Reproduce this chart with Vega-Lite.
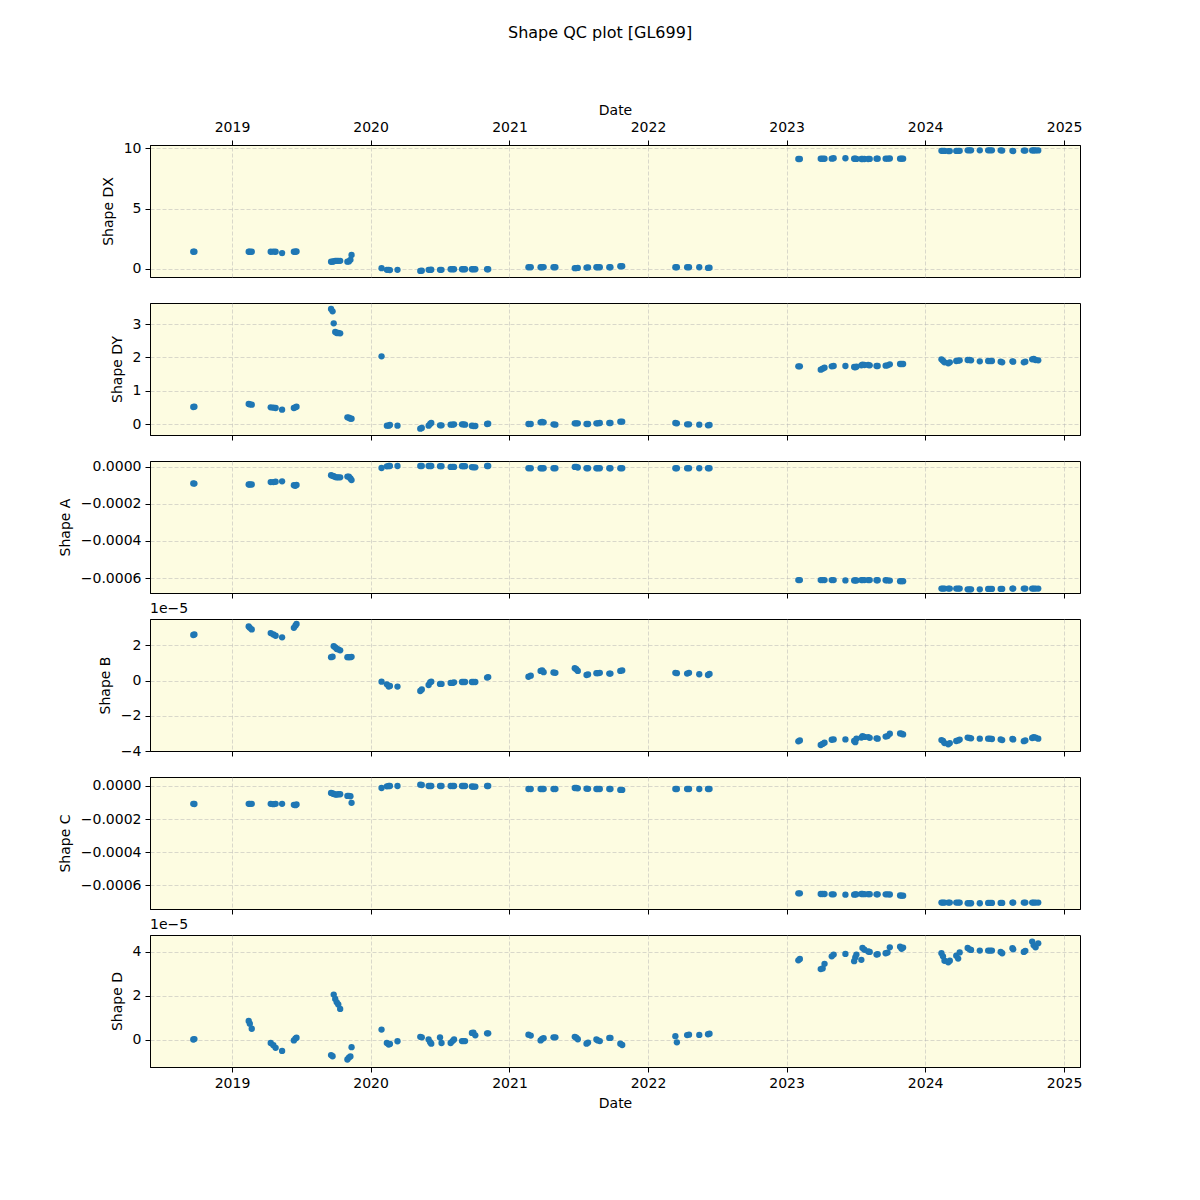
{
 "$schema": "https://vega.github.io/schema/vega-lite/v6.json",
 "background": "white",
 "padding": {"left": 57, "top": 24, "right": 5, "bottom": 5},
 "title": {"text": "Shape QC plot [GL699]", "fontSize": 16, "font": "DejaVu Sans", "fontWeight": "normal", "color": "#000", "anchor": "middle", "offset": 62, "dx": 30},
 "data": {"values": [
  {"t":"2018-09-21","dx":1.42,"dy":0.51,"a":-0.89e-4,"b":2.59e-5,"c":-1.08e-4,"d":0.02e-5},
  {"t":"2018-09-24","dx":1.43,"dy":0.52,"a":-0.90e-4,"b":2.62e-5,"c":-1.09e-4,"d":0.04e-5},
  {"t":"2019-02-14","dx":1.42,"dy":0.60,"a":-0.95e-4,"b":3.08e-5,"c":-1.08e-4,"d":0.86e-5},
  {"t":"2019-02-17","dx":1.42,"dy":0.59,"a":-0.95e-4,"b":3.00e-5,"c":-1.08e-4,"d":0.74e-5},
  {"t":"2019-02-22","dx":1.42,"dy":0.58,"a":-0.95e-4,"b":2.91e-5,"c":-1.08e-4,"d":0.51e-5},
  {"t":"2019-04-13","dx":1.42,"dy":0.50,"a":-0.82e-4,"b":2.70e-5,"c":-1.08e-4,"d":-0.14e-5},
  {"t":"2019-04-20","dx":1.43,"dy":0.49,"a":-0.82e-4,"b":2.62e-5,"c":-1.10e-4,"d":-0.24e-5},
  {"t":"2019-04-26","dx":1.42,"dy":0.48,"a":-0.80e-4,"b":2.55e-5,"c":-1.08e-4,"d":-0.36e-5},
  {"t":"2019-05-13","dx":1.31,"dy":0.43,"a":-0.78e-4,"b":2.46e-5,"c":-1.08e-4,"d":-0.50e-5},
  {"t":"2019-06-13","dx":1.42,"dy":0.48,"a":-0.99e-4,"b":3.00e-5,"c":-1.14e-4,"d":-0.02e-5},
  {"t":"2019-06-17","dx":1.42,"dy":0.50,"a":-1.02e-4,"b":3.12e-5,"c":-1.16e-4,"d":0.06e-5},
  {"t":"2019-06-20","dx":1.44,"dy":0.52,"a":-0.97e-4,"b":3.22e-5,"c":-1.12e-4,"d":0.10e-5},
  {"t":"2019-09-19","dx":0.59,"dy":3.45,"a":-0.45e-4,"b":1.33e-5,"c":-0.42e-4,"d":-0.69e-5},
  {"t":"2019-09-23","dx":0.60,"dy":3.38,"a":-0.48e-4,"b":1.36e-5,"c":-0.45e-4,"d":-0.74e-5},
  {"t":"2019-09-26","dx":0.63,"dy":3.02,"a":-0.50e-4,"b":1.95e-5,"c":-0.48e-4,"d":2.06e-5},
  {"t":"2019-09-30","dx":0.66,"dy":2.76,"a":-0.55e-4,"b":1.89e-5,"c":-0.52e-4,"d":1.86e-5},
  {"t":"2019-10-04","dx":0.67,"dy":2.73,"a":-0.56e-4,"b":1.80e-5,"c":-0.52e-4,"d":1.71e-5},
  {"t":"2019-10-08","dx":0.67,"dy":2.73,"a":-0.56e-4,"b":1.77e-5,"c":-0.50e-4,"d":1.61e-5},
  {"t":"2019-10-13","dx":0.67,"dy":2.72,"a":-0.56e-4,"b":1.72e-5,"c":-0.50e-4,"d":1.41e-5},
  {"t":"2019-11-01","dx":0.60,"dy":0.20,"a":-0.52e-4,"b":1.33e-5,"c":-0.60e-4,"d":-0.89e-5},
  {"t":"2019-11-05","dx":0.62,"dy":0.19,"a":-0.52e-4,"b":1.33e-5,"c":-0.60e-4,"d":-0.80e-5},
  {"t":"2019-11-09","dx":0.75,"dy":0.16,"a":-0.62e-4,"b":1.33e-5,"c":-0.62e-4,"d":-0.75e-5},
  {"t":"2019-11-12","dx":1.15,"dy":0.16,"a":-0.71e-4,"b":1.35e-5,"c":-1.02e-4,"d":-0.33e-5},
  {"t":"2020-01-30","dx":0.06,"dy":2.03,"a":-0.06e-4,"b":-0.06e-5,"c":-0.12e-4,"d":0.47e-5},
  {"t":"2020-02-13","dx":-0.08,"dy":-0.05,"a":0.03e-4,"b":-0.21e-5,"c":-0.02e-4,"d":-0.14e-5},
  {"t":"2020-02-18","dx":-0.08,"dy":-0.05,"a":0.05e-4,"b":-0.34e-5,"c":0.0,"d":-0.21e-5},
  {"t":"2020-02-21","dx":-0.10,"dy":-0.03,"a":0.05e-4,"b":-0.30e-5,"c":0.0,"d":-0.18e-5},
  {"t":"2020-03-12","dx":-0.08,"dy":-0.05,"a":0.05e-4,"b":-0.34e-5,"c":0.0,"d":-0.06e-5},
  {"t":"2020-05-11","dx":-0.17,"dy":-0.14,"a":0.05e-4,"b":-0.59e-5,"c":0.08e-4,"d":0.14e-5},
  {"t":"2020-05-15","dx":-0.15,"dy":-0.12,"a":0.05e-4,"b":-0.50e-5,"c":0.06e-4,"d":0.12e-5},
  {"t":"2020-06-02","dx":-0.08,"dy":-0.05,"a":0.05e-4,"b":-0.25e-5,"c":0.0,"d":0.02e-5},
  {"t":"2020-06-06","dx":-0.08,"dy":0.00,"a":0.05e-4,"b":-0.10e-5,"c":0.0,"d":-0.10e-5},
  {"t":"2020-06-09","dx":-0.07,"dy":0.03,"a":0.05e-4,"b":-0.06e-5,"c":0.0,"d":-0.17e-5},
  {"t":"2020-07-02","dx":-0.08,"dy":-0.04,"a":0.04e-4,"b":-0.19e-5,"c":0.0,"d":0.11e-5},
  {"t":"2020-07-06","dx":-0.08,"dy":-0.04,"a":0.04e-4,"b":-0.19e-5,"c":0.0,"d":-0.14e-5},
  {"t":"2020-07-30","dx":-0.03,"dy":-0.02,"a":0.0,"b":-0.13e-5,"c":0.0,"d":-0.14e-5},
  {"t":"2020-08-04","dx":-0.03,"dy":-0.02,"a":0.0,"b":-0.13e-5,"c":0.0,"d":-0.05e-5},
  {"t":"2020-08-08","dx":-0.03,"dy":-0.01,"a":0.0,"b":-0.10e-5,"c":0.0,"d":0.02e-5},
  {"t":"2020-08-29","dx":-0.03,"dy":-0.01,"a":0.04e-4,"b":-0.08e-5,"c":0.0,"d":-0.05e-5},
  {"t":"2020-09-02","dx":-0.03,"dy":-0.01,"a":0.04e-4,"b":-0.08e-5,"c":0.0,"d":-0.05e-5},
  {"t":"2020-09-06","dx":-0.03,"dy":-0.02,"a":0.04e-4,"b":-0.08e-5,"c":0.0,"d":-0.05e-5},
  {"t":"2020-09-24","dx":-0.03,"dy":-0.05,"a":-0.01e-4,"b":-0.08e-5,"c":-0.03e-4,"d":0.32e-5},
  {"t":"2020-09-28","dx":-0.03,"dy":-0.06,"a":-0.02e-4,"b":-0.08e-5,"c":-0.04e-4,"d":0.33e-5},
  {"t":"2020-10-03","dx":-0.03,"dy":-0.06,"a":-0.02e-4,"b":-0.08e-5,"c":-0.04e-4,"d":0.21e-5},
  {"t":"2020-11-03","dx":-0.03,"dy":0.00,"a":0.05e-4,"b":0.17e-5,"c":0.0,"d":0.30e-5},
  {"t":"2020-11-06","dx":-0.03,"dy":0.01,"a":0.05e-4,"b":0.20e-5,"c":0.0,"d":0.30e-5},
  {"t":"2021-02-20","dx":0.14,"dy":0.00,"a":-0.07e-4,"b":0.22e-5,"c":-0.18e-4,"d":0.24e-5},
  {"t":"2021-02-26","dx":0.14,"dy":0.00,"a":-0.07e-4,"b":0.28e-5,"c":-0.18e-4,"d":0.20e-5},
  {"t":"2021-03-24","dx":0.14,"dy":0.05,"a":-0.07e-4,"b":0.55e-5,"c":-0.18e-4,"d":-0.02e-5},
  {"t":"2021-03-28","dx":0.14,"dy":0.06,"a":-0.07e-4,"b":0.58e-5,"c":-0.18e-4,"d":0.05e-5},
  {"t":"2021-04-01","dx":0.15,"dy":0.05,"a":-0.07e-4,"b":0.48e-5,"c":-0.18e-4,"d":0.08e-5},
  {"t":"2021-04-27","dx":0.14,"dy":-0.01,"a":-0.07e-4,"b":0.46e-5,"c":-0.18e-4,"d":0.12e-5},
  {"t":"2021-05-02","dx":0.14,"dy":-0.02,"a":-0.07e-4,"b":0.44e-5,"c":-0.18e-4,"d":0.12e-5},
  {"t":"2021-06-22","dx":0.06,"dy":0.02,"a":0.0,"b":0.70e-5,"c":-0.12e-4,"d":0.14e-5},
  {"t":"2021-06-26","dx":0.07,"dy":0.02,"a":0.0,"b":0.65e-5,"c":-0.12e-4,"d":0.10e-5},
  {"t":"2021-06-30","dx":0.08,"dy":0.02,"a":-0.03e-4,"b":0.55e-5,"c":-0.14e-4,"d":0.03e-5},
  {"t":"2021-07-23","dx":0.11,"dy":0.00,"a":-0.07e-4,"b":0.32e-5,"c":-0.16e-4,"d":-0.17e-5},
  {"t":"2021-07-27","dx":0.12,"dy":0.00,"a":-0.07e-4,"b":0.35e-5,"c":-0.17e-4,"d":-0.12e-5},
  {"t":"2021-08-18","dx":0.14,"dy":0.02,"a":-0.07e-4,"b":0.42e-5,"c":-0.18e-4,"d":0.02e-5},
  {"t":"2021-08-22","dx":0.14,"dy":0.02,"a":-0.07e-4,"b":0.42e-5,"c":-0.18e-4,"d":-0.02e-5},
  {"t":"2021-08-27","dx":0.14,"dy":0.03,"a":-0.07e-4,"b":0.44e-5,"c":-0.18e-4,"d":-0.05e-5},
  {"t":"2021-09-21","dx":0.14,"dy":0.03,"a":-0.07e-4,"b":0.40e-5,"c":-0.18e-4,"d":0.09e-5},
  {"t":"2021-09-24","dx":0.14,"dy":0.03,"a":-0.07e-4,"b":0.40e-5,"c":-0.18e-4,"d":0.09e-5},
  {"t":"2021-10-20","dx":0.22,"dy":0.07,"a":-0.07e-4,"b":0.55e-5,"c":-0.24e-4,"d":-0.17e-5},
  {"t":"2021-10-25","dx":0.22,"dy":0.07,"a":-0.07e-4,"b":0.58e-5,"c":-0.24e-4,"d":-0.23e-5},
  {"t":"2022-03-14","dx":0.14,"dy":0.03,"a":-0.07e-4,"b":0.44e-5,"c":-0.18e-4,"d":0.17e-5},
  {"t":"2022-03-18","dx":0.14,"dy":0.02,"a":-0.07e-4,"b":0.42e-5,"c":-0.18e-4,"d":-0.11e-5},
  {"t":"2022-04-14","dx":0.14,"dy":-0.01,"a":-0.07e-4,"b":0.40e-5,"c":-0.18e-4,"d":0.22e-5},
  {"t":"2022-04-19","dx":0.14,"dy":-0.01,"a":-0.07e-4,"b":0.44e-5,"c":-0.18e-4,"d":0.24e-5},
  {"t":"2022-05-16","dx":0.14,"dy":-0.02,"a":-0.07e-4,"b":0.36e-5,"c":-0.18e-4,"d":0.23e-5},
  {"t":"2022-06-08","dx":0.08,"dy":-0.04,"a":-0.07e-4,"b":0.32e-5,"c":-0.18e-4,"d":0.26e-5},
  {"t":"2022-06-12","dx":0.10,"dy":-0.03,"a":-0.07e-4,"b":0.38e-5,"c":-0.18e-4,"d":0.28e-5},
  {"t":"2023-02-01","dx":9.10,"dy":1.73,"a":-6.11e-4,"b":-3.45e-5,"c":-6.50e-4,"d":3.62e-5},
  {"t":"2023-02-05","dx":9.10,"dy":1.73,"a":-6.11e-4,"b":-3.40e-5,"c":-6.50e-4,"d":3.68e-5},
  {"t":"2023-04-01","dx":9.12,"dy":1.63,"a":-6.11e-4,"b":-3.66e-5,"c":-6.54e-4,"d":3.22e-5},
  {"t":"2023-04-06","dx":9.12,"dy":1.66,"a":-6.11e-4,"b":-3.60e-5,"c":-6.54e-4,"d":3.25e-5},
  {"t":"2023-04-11","dx":9.12,"dy":1.69,"a":-6.11e-4,"b":-3.53e-5,"c":-6.54e-4,"d":3.46e-5},
  {"t":"2023-04-30","dx":9.13,"dy":1.73,"a":-6.11e-4,"b":-3.36e-5,"c":-6.56e-4,"d":3.80e-5},
  {"t":"2023-05-05","dx":9.16,"dy":1.74,"a":-6.11e-4,"b":-3.34e-5,"c":-6.56e-4,"d":3.88e-5},
  {"t":"2023-06-05","dx":9.16,"dy":1.74,"a":-6.13e-4,"b":-3.34e-5,"c":-6.58e-4,"d":3.91e-5},
  {"t":"2023-06-28","dx":9.12,"dy":1.71,"a":-6.13e-4,"b":-3.43e-5,"c":-6.58e-4,"d":3.58e-5},
  {"t":"2023-07-01","dx":9.13,"dy":1.70,"a":-6.13e-4,"b":-3.50e-5,"c":-6.56e-4,"d":3.75e-5},
  {"t":"2023-07-04","dx":9.11,"dy":1.72,"a":-6.13e-4,"b":-3.30e-5,"c":-6.56e-4,"d":3.88e-5},
  {"t":"2023-07-17","dx":9.10,"dy":1.76,"a":-6.11e-4,"b":-3.24e-5,"c":-6.54e-4,"d":3.64e-5},
  {"t":"2023-07-20","dx":9.10,"dy":1.78,"a":-6.11e-4,"b":-3.15e-5,"c":-6.54e-4,"d":4.18e-5},
  {"t":"2023-07-25","dx":9.10,"dy":1.77,"a":-6.11e-4,"b":-3.20e-5,"c":-6.55e-4,"d":4.10e-5},
  {"t":"2023-08-04","dx":9.10,"dy":1.77,"a":-6.11e-4,"b":-3.21e-5,"c":-6.55e-4,"d":4.02e-5},
  {"t":"2023-08-08","dx":9.11,"dy":1.76,"a":-6.11e-4,"b":-3.25e-5,"c":-6.55e-4,"d":4.00e-5},
  {"t":"2023-08-26","dx":9.13,"dy":1.74,"a":-6.12e-4,"b":-3.28e-5,"c":-6.56e-4,"d":3.88e-5},
  {"t":"2023-08-29","dx":9.13,"dy":1.74,"a":-6.12e-4,"b":-3.30e-5,"c":-6.56e-4,"d":3.90e-5},
  {"t":"2023-09-19","dx":9.13,"dy":1.75,"a":-6.12e-4,"b":-3.18e-5,"c":-6.56e-4,"d":3.94e-5},
  {"t":"2023-09-24","dx":9.13,"dy":1.76,"a":-6.13e-4,"b":-3.15e-5,"c":-6.56e-4,"d":3.97e-5},
  {"t":"2023-09-30","dx":9.14,"dy":1.79,"a":-6.14e-4,"b":-3.02e-5,"c":-6.57e-4,"d":4.21e-5},
  {"t":"2023-10-27","dx":9.13,"dy":1.80,"a":-6.17e-4,"b":-3.00e-5,"c":-6.63e-4,"d":4.24e-5},
  {"t":"2023-10-31","dx":9.13,"dy":1.80,"a":-6.17e-4,"b":-3.02e-5,"c":-6.64e-4,"d":4.14e-5},
  {"t":"2023-11-04","dx":9.13,"dy":1.80,"a":-6.17e-4,"b":-3.06e-5,"c":-6.64e-4,"d":4.20e-5},
  {"t":"2024-02-13","dx":9.78,"dy":1.94,"a":-6.57e-4,"b":-3.38e-5,"c":-7.06e-4,"d":3.94e-5},
  {"t":"2024-02-17","dx":9.77,"dy":1.90,"a":-6.57e-4,"b":-3.42e-5,"c":-7.06e-4,"d":3.80e-5},
  {"t":"2024-02-21","dx":9.77,"dy":1.85,"a":-6.57e-4,"b":-3.55e-5,"c":-7.06e-4,"d":3.60e-5},
  {"t":"2024-03-02","dx":9.76,"dy":1.82,"a":-6.57e-4,"b":-3.62e-5,"c":-7.06e-4,"d":3.53e-5},
  {"t":"2024-03-06","dx":9.76,"dy":1.85,"a":-6.57e-4,"b":-3.55e-5,"c":-7.06e-4,"d":3.60e-5},
  {"t":"2024-03-23","dx":9.77,"dy":1.89,"a":-6.57e-4,"b":-3.43e-5,"c":-7.06e-4,"d":3.83e-5},
  {"t":"2024-03-28","dx":9.77,"dy":1.90,"a":-6.57e-4,"b":-3.40e-5,"c":-7.06e-4,"d":3.70e-5},
  {"t":"2024-04-01","dx":9.78,"dy":1.91,"a":-6.57e-4,"b":-3.35e-5,"c":-7.06e-4,"d":3.98e-5},
  {"t":"2024-04-22","dx":9.82,"dy":1.92,"a":-6.61e-4,"b":-3.24e-5,"c":-7.10e-4,"d":4.18e-5},
  {"t":"2024-04-27","dx":9.82,"dy":1.92,"a":-6.61e-4,"b":-3.26e-5,"c":-7.10e-4,"d":4.12e-5},
  {"t":"2024-05-01","dx":9.82,"dy":1.91,"a":-6.61e-4,"b":-3.28e-5,"c":-7.10e-4,"d":4.09e-5},
  {"t":"2024-05-24","dx":9.82,"dy":1.88,"a":-6.61e-4,"b":-3.30e-5,"c":-7.10e-4,"d":4.06e-5},
  {"t":"2024-06-15","dx":9.82,"dy":1.89,"a":-6.59e-4,"b":-3.30e-5,"c":-7.08e-4,"d":4.06e-5},
  {"t":"2024-06-20","dx":9.82,"dy":1.89,"a":-6.59e-4,"b":-3.30e-5,"c":-7.08e-4,"d":4.06e-5},
  {"t":"2024-06-25","dx":9.82,"dy":1.89,"a":-6.59e-4,"b":-3.32e-5,"c":-7.08e-4,"d":4.06e-5},
  {"t":"2024-07-18","dx":9.82,"dy":1.87,"a":-6.59e-4,"b":-3.34e-5,"c":-7.08e-4,"d":4.00e-5},
  {"t":"2024-07-22","dx":9.80,"dy":1.85,"a":-6.59e-4,"b":-3.38e-5,"c":-7.08e-4,"d":3.94e-5},
  {"t":"2024-08-18","dx":9.78,"dy":1.88,"a":-6.57e-4,"b":-3.32e-5,"c":-7.06e-4,"d":4.17e-5},
  {"t":"2024-08-20","dx":9.76,"dy":1.87,"a":-6.57e-4,"b":-3.34e-5,"c":-7.06e-4,"d":4.12e-5},
  {"t":"2024-09-17","dx":9.80,"dy":1.85,"a":-6.57e-4,"b":-3.44e-5,"c":-7.06e-4,"d":4.00e-5},
  {"t":"2024-09-21","dx":9.80,"dy":1.87,"a":-6.57e-4,"b":-3.40e-5,"c":-7.06e-4,"d":4.05e-5},
  {"t":"2024-10-09","dx":9.81,"dy":1.94,"a":-6.57e-4,"b":-3.26e-5,"c":-7.06e-4,"d":4.47e-5},
  {"t":"2024-10-13","dx":9.81,"dy":1.95,"a":-6.57e-4,"b":-3.22e-5,"c":-7.06e-4,"d":4.30e-5},
  {"t":"2024-10-18","dx":9.81,"dy":1.92,"a":-6.57e-4,"b":-3.24e-5,"c":-7.06e-4,"d":4.21e-5},
  {"t":"2024-10-25","dx":9.81,"dy":1.91,"a":-6.57e-4,"b":-3.30e-5,"c":-7.06e-4,"d":4.39e-5}
 ]},
 "spacing": 26,
 "bounds": "flush",
 "vconcat": [
  {"width": 930, "height": 132,
   "mark": {"type": "circle", "size": 40, "color": "#1f77b4", "opacity": 1},
   "encoding": {
    "x": {"field": "t", "type": "temporal",
      "scale": {"type": "utc", "domain": [{"year": 2018, "month": 5, "date": 30, "utc": true}, {"year": 2025, "month": 2, "date": 12, "utc": true}]},
      "axis": {"orient": "top", "title": "Date", "format": "%Y", "labelPadding": 6, "titlePadding": 3, "values": [{"year": 2019, "utc": true}, {"year": 2020, "utc": true}, {"year": 2021, "utc": true}, {"year": 2022, "utc": true}, {"year": 2023, "utc": true}, {"year": 2024, "utc": true}, {"year": 2025, "utc": true}]}},
    "y": {"field": "dx", "type": "quantitative", "scale": {"domain": [-0.67, 10.26], "nice": false, "zero": false}, "axis": {"title": "Shape DX", "values": [0, 5, 10]}}
   }},
  {"width": 930, "height": 132,
   "mark": {"type": "circle", "size": 40, "color": "#1f77b4", "opacity": 1},
   "encoding": {
    "x": {"field": "t", "type": "temporal",
      "scale": {"type": "utc", "domain": [{"year": 2018, "month": 5, "date": 30, "utc": true}, {"year": 2025, "month": 2, "date": 12, "utc": true}]},
      "axis": {"orient": "bottom", "title": null, "labels": false, "values": [{"year": 2019, "utc": true}, {"year": 2020, "utc": true}, {"year": 2021, "utc": true}, {"year": 2022, "utc": true}, {"year": 2023, "utc": true}, {"year": 2024, "utc": true}, {"year": 2025, "utc": true}]}},
    "y": {"field": "dy", "type": "quantitative", "scale": {"domain": [-0.33, 3.63], "nice": false, "zero": false}, "axis": {"title": "Shape DY", "values": [0, 1, 2, 3]}}
   }},
  {"width": 930, "height": 132,
   "mark": {"type": "circle", "size": 40, "color": "#1f77b4", "opacity": 1},
   "encoding": {
    "x": {"field": "t", "type": "temporal",
      "scale": {"type": "utc", "domain": [{"year": 2018, "month": 5, "date": 30, "utc": true}, {"year": 2025, "month": 2, "date": 12, "utc": true}]},
      "axis": {"orient": "bottom", "title": null, "labels": false, "values": [{"year": 2019, "utc": true}, {"year": 2020, "utc": true}, {"year": 2021, "utc": true}, {"year": 2022, "utc": true}, {"year": 2023, "utc": true}, {"year": 2024, "utc": true}, {"year": 2025, "utc": true}]}},
    "y": {"field": "a", "type": "quantitative", "scale": {"domain": [-6.81e-4, 0.32e-4], "nice": false, "zero": false}, "axis": {"title": "Shape A", "values": [0, -0.0002, -0.0004, -0.0006], "format": ".4f"}}
   }},
  {"width": 930, "height": 132,
   "title": {"text": "1e−5", "anchor": "start", "frame": "group", "fontSize": 14, "fontWeight": "normal", "font": "DejaVu Sans", "color": "#000", "offset": 3},
   "mark": {"type": "circle", "size": 40, "color": "#1f77b4", "opacity": 1},
   "encoding": {
    "x": {"field": "t", "type": "temporal",
      "scale": {"type": "utc", "domain": [{"year": 2018, "month": 5, "date": 30, "utc": true}, {"year": 2025, "month": 2, "date": 12, "utc": true}]},
      "axis": {"orient": "bottom", "title": null, "labels": false, "values": [{"year": 2019, "utc": true}, {"year": 2020, "utc": true}, {"year": 2021, "utc": true}, {"year": 2022, "utc": true}, {"year": 2023, "utc": true}, {"year": 2024, "utc": true}, {"year": 2025, "utc": true}]}},
    "y": {"field": "b", "type": "quantitative", "scale": {"domain": [-4.0e-5, 3.5e-5], "nice": false, "zero": false}, "axis": {"title": "Shape B", "values": [-4e-5, -2e-5, 0, 2e-5], "labelExpr": "format(datum.value * 100000, '.0f')"}}
   }},
  {"width": 930, "height": 132,
   "mark": {"type": "circle", "size": 40, "color": "#1f77b4", "opacity": 1},
   "encoding": {
    "x": {"field": "t", "type": "temporal",
      "scale": {"type": "utc", "domain": [{"year": 2018, "month": 5, "date": 30, "utc": true}, {"year": 2025, "month": 2, "date": 12, "utc": true}]},
      "axis": {"orient": "bottom", "title": null, "labels": false, "values": [{"year": 2019, "utc": true}, {"year": 2020, "utc": true}, {"year": 2021, "utc": true}, {"year": 2022, "utc": true}, {"year": 2023, "utc": true}, {"year": 2024, "utc": true}, {"year": 2025, "utc": true}]}},
    "y": {"field": "c", "type": "quantitative", "scale": {"domain": [-7.45e-4, 0.545e-4], "nice": false, "zero": false}, "axis": {"title": "Shape C", "values": [0, -0.0002, -0.0004, -0.0006], "format": ".4f"}}
   }},
  {"width": 930, "height": 132,
   "title": {"text": "1e−5", "anchor": "start", "frame": "group", "fontSize": 14, "fontWeight": "normal", "font": "DejaVu Sans", "color": "#000", "offset": 3},
   "mark": {"type": "circle", "size": 40, "color": "#1f77b4", "opacity": 1},
   "encoding": {
    "x": {"field": "t", "type": "temporal",
      "scale": {"type": "utc", "domain": [{"year": 2018, "month": 5, "date": 30, "utc": true}, {"year": 2025, "month": 2, "date": 12, "utc": true}]},
      "axis": {"orient": "bottom", "title": "Date", "format": "%Y", "values": [{"year": 2019, "utc": true}, {"year": 2020, "utc": true}, {"year": 2021, "utc": true}, {"year": 2022, "utc": true}, {"year": 2023, "utc": true}, {"year": 2024, "utc": true}, {"year": 2025, "utc": true}]}},
    "y": {"field": "d", "type": "quantitative", "scale": {"domain": [-1.23e-5, 4.77e-5], "nice": false, "zero": false}, "axis": {"title": "Shape D", "values": [0, 2e-5, 4e-5], "labelExpr": "format(datum.value * 100000, '.0f')"}}
   }}
 ],
 "config": {
  "font": "DejaVu Sans",
  "view": {"fill": "#FDFCE1", "stroke": "#000000", "strokeWidth": 1},
  "axis": {"labelFont": "DejaVu Sans", "titleFont": "DejaVu Sans", "labelFontSize": 14, "titleFontSize": 14, "titleFontWeight": "normal", "labelColor": "#000", "titleColor": "#000", "domainColor": "#000", "tickColor": "#000", "tickSize": 5, "tickWidth": 1, "domainWidth": 1, "labelPadding": 4, "titlePadding": 6, "grid": true, "gridColor": "#b0b0b0", "gridOpacity": 0.6, "gridDash": [4, 2], "gridWidth": 0.8, "labelFlush": false, "labelOverlap": false},
  "axisY": {"titlePadding": 8}
 }
}
